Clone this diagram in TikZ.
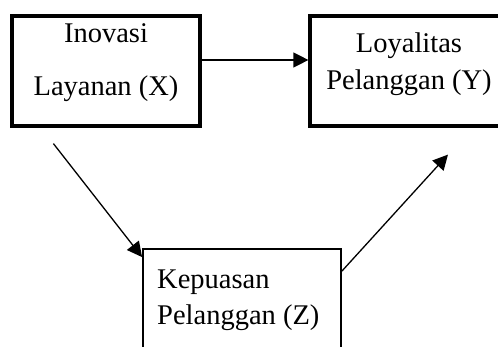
\documentclass[tikz,border=0pt]{standalone}
\usepackage{fontspec}
\setmainfont{Liberation Serif}
\usetikzlibrary{arrows.meta}
\begin{document}
\begin{tikzpicture}[x=1pt,y=-1pt,
  thickbox/.style={draw, line width=3.2pt, inner sep=0pt},
  thinbox/.style={draw, line width=1.8pt, inner sep=0pt},
  lbl/.style={font=\fontsize{28.5}{34}\selectfont, inner sep=0pt},
  arr/.style={line width=1.3pt, -{Triangle[length=15pt,width=15pt]}}]
\useasboundingbox (0,0) rectangle (498,347);
% variable boxes
\node[thickbox, minimum width=188pt, minimum height=110pt] (X) at (106,71) {};
\node[thickbox, minimum width=198pt, minimum height=110pt] (Y) at (409,71) {};
\node[thinbox, minimum width=198pt, minimum height=140pt] (Z) at (242,319) {};
% labels
\node[lbl, anchor=base] (x1) at (106,43) {Inovasi};
\node[lbl, anchor=base] (x2) at (106,96) {Layanan (X)};
\node[lbl, anchor=base] (y1) at (409,53) {Loyalitas};
\node[lbl, anchor=base] (y2) at (409,90) {Pelanggan (Y)};
\node[lbl, anchor=base west] (z1) at (157,289) {Kepuasan};
\node[lbl, anchor=base west] (z2) at (157,324) {Pelanggan (Z)};
% free ends of the diagonal arrows
\coordinate (xs) at ([shift={(43pt,-16pt)}]X.south west);
\coordinate (yt) at ([shift={(39pt,-27pt)}]Y.south);
% paths
\draw[arr] ([shift={(-3pt,11pt)}]X.east) -- ([yshift=11pt]Y.west);
\draw[arr] (xs) -- ([yshift=-9pt]Z.north west);
\draw[arr] ([yshift=-23pt]Z.north east) -- (yt);
\end{tikzpicture}
\end{document}
